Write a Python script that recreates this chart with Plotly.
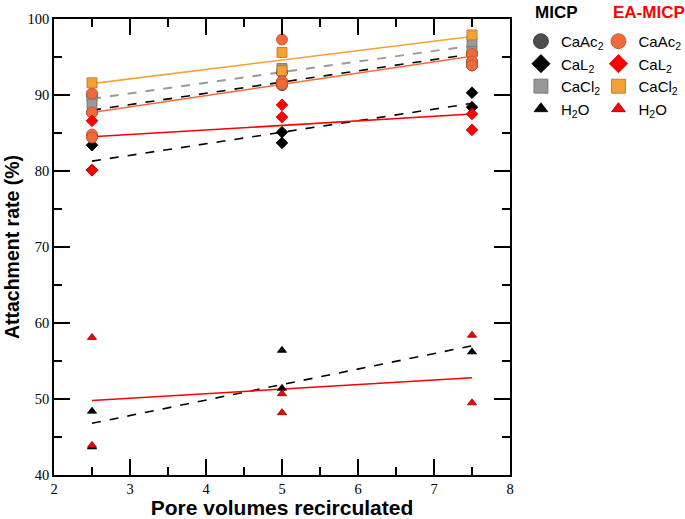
import plotly.graph_objects as go

# ---------------- data ----------------
# MICP
micp_caac2_x = [2.5, 2.5, 2.5, 5, 5, 5, 7.5, 7.5, 7.5]
micp_caac2_y = [90.0, 87.7, 84.6, 91.7, 91.3, 93.0, 95.5, 94.4, 93.9]
micp_cal2_x = [2.5, 2.5, 5, 5, 7.5, 7.5]
micp_cal2_y = [83.4, 80.1, 85.1, 83.7, 90.3, 88.4]
micp_cacl2_x = [2.5, 2.5, 5, 7.5, 7.5]
micp_cacl2_y = [89.8, 88.8, 93.5, 96.9, 95.7]
micp_h2o_x = [2.5, 2.5, 5, 5, 7.5]
micp_h2o_y = [48.4, 43.7, 56.4, 51.4, 56.2]
# EA-MICP
ea_caac2_x = [2.5, 2.5, 2.5, 2.5, 5, 5, 5, 7.5, 7.5, 7.5]
ea_caac2_y = [90.2, 87.7, 84.8, 84.4, 97.3, 91.8, 91.4, 95.4, 94.4, 93.9]
ea_cal2_x = [2.5, 2.5, 5, 5, 7.5, 7.5]
ea_cal2_y = [86.6, 80.1, 88.7, 87.1, 87.5, 85.4]
ea_cacl2_x = [2.5, 5, 5, 7.5]
ea_cacl2_y = [91.6, 95.6, 93.2, 97.9]
ea_h2o_x = [2.5, 2.5, 5, 5, 7.5, 7.5]
ea_h2o_y = [58.1, 43.9, 50.7, 48.2, 58.4, 49.5]

# trend lines (values at the ends of the fitted range)
fit_x = [2.5, 7.5]
fit_micp_caac2 = [88.0, 95.4]
fit_micp_cal2 = [81.3, 88.9]
fit_micp_cacl2 = [89.5, 96.5]
fit_micp_h2o = [46.8, 57.0]
fit_ea_caac2 = [87.7, 95.1]
fit_ea_cal2 = [84.5, 87.5]
fit_ea_cacl2 = [91.5, 97.7]
fit_ea_h2o = [49.8, 52.8]

labels = ["CaAc<sub>2</sub>", "CaL<sub>2</sub>", "CaCl<sub>2</sub>", "H<sub>2</sub>O"]
group_titles = ["MICP", "EA-MICP"]

fig = go.Figure()

# ---------------- trend lines ----------------
lines = [
    (fit_micp_caac2, "#000000", "dash", 1.6),
    (fit_micp_cal2, "#000000", "dash", 1.6),
    (fit_micp_cacl2, "#999999", "dash", 2.0),
    (fit_micp_h2o, "#000000", "dash", 1.6),
    (fit_ea_caac2, "#F26A3A", "solid", 1.6),
    (fit_ea_cal2, "#FF0000", "solid", 1.6),
    (fit_ea_cacl2, "#F7A035", "solid", 1.6),
    (fit_ea_h2o, "#FF0000", "solid", 1.6),
]
for yv, col, dash, w in lines:
    fig.add_trace(go.Scatter(x=fit_x, y=yv, mode="lines",
                             line=dict(color=col, dash=dash, width=w),
                             showlegend=False, hoverinfo="skip"))

# ---------------- markers ----------------
series = [
    # x, y, symbol, fill, outline, size, legend, label
    (micp_caac2_x, micp_caac2_y, "circle", "#4D4D4D", "#333333", 11, "legend", labels[0]),
    (micp_cal2_x, micp_cal2_y, "diamond", "#000000", "#000000", 9, "legend", labels[1]),
    (micp_cacl2_x, micp_cacl2_y, "square", "#999999", "#6E6E6E", 10, "legend", labels[2]),
    (micp_h2o_x, micp_h2o_y, "triangle-up", "#000000", "#000000", 8, "legend", labels[3]),
    (ea_caac2_x, ea_caac2_y, "circle", "#F26A3A", "#B5522E", 11, "legend2", labels[0]),
    (ea_cal2_x, ea_cal2_y, "diamond", "#FF0000", "#CC0000", 9, "legend2", labels[1]),
    (ea_cacl2_x, ea_cacl2_y, "square", "#F7A035", "#B07020", 10, "legend2", labels[2]),
    (ea_h2o_x, ea_h2o_y, "triangle-up", "#FF0000", "#800000", 8, "legend2", labels[3]),
]
legend_sizes = {"circle": 15, "diamond": 14, "square": 14, "triangle-up": 12}
for xv, yv, sym, fill, edge, size, leg, lab in series:
    fig.add_trace(go.Scatter(x=xv, y=yv, mode="markers", showlegend=False,
                             marker=dict(symbol=sym, color=fill, size=size,
                                         line=dict(color=edge, width=0.8))))
    # legend-only entry with larger symbol
    fig.add_trace(go.Scatter(x=[None], y=[None], mode="markers", name=lab, legend=leg,
                             marker=dict(symbol=sym, color=fill, size=legend_sizes[sym],
                                         line=dict(color=edge, width=0.8))))

axis_common = dict(
    showline=True, linecolor="black", linewidth=1.5, mirror="allticks",
    ticks="inside", ticklen=16, tickwidth=1.5, tickcolor="black",
    showgrid=False, zeroline=False,
    tickfont=dict(family="Liberation Serif", size=14.5, color="black"),
)

fig.update_xaxes(range=[2, 8], dtick=1, tick0=2,
                 minor=dict(ticks="inside", ticklen=8, tickwidth=1.5, dtick=0.5, tickcolor="black"),
                 title=dict(text="<b>Pore volumes recirculated</b>",
                            font=dict(family="Liberation Sans", size=21, color="black"),
                            standoff=3),
                 **axis_common)
fig.update_yaxes(range=[40, 100], dtick=10, tick0=40,
                 minor=dict(ticks="inside", ticklen=8, tickwidth=1.5, dtick=5, tickcolor="black"),
                 title=dict(text="<b>Attachment rate (%)</b>",
                            font=dict(family="Liberation Sans", size=19.5, color="black"),
                            standoff=3),
                 **axis_common)

fig.add_annotation(text="<b>%s</b>" % group_titles[0], xref="paper", yref="paper",
                   x=1.050, y=1.015, xanchor="left", yanchor="middle", showarrow=False,
                   font=dict(family="Liberation Sans", size=17, color="black"))
fig.add_annotation(text="<b>%s</b>" % group_titles[1], xref="paper", yref="paper",
                   x=1.222, y=1.015, xanchor="left", yanchor="middle", showarrow=False,
                   font=dict(family="Liberation Sans", size=17, color="#FF0000"))

fig.update_layout(
    width=685, height=519,
    margin=dict(l=54, r=175, t=19, b=44, autoexpand=False),
    plot_bgcolor="white", paper_bgcolor="white",
    font=dict(family="Liberation Sans", color="black"),
    legend=dict(x=1.024, y=0.987, xanchor="left", yanchor="top",
                font=dict(size=15, color="black"), itemsizing="trace",
                bgcolor="rgba(0,0,0,0)"),
    legend2=dict(x=1.194, y=0.987, xanchor="left", yanchor="top",
                 font=dict(size=15, color="black"), itemsizing="trace",
                 bgcolor="rgba(0,0,0,0)"),
)

fig.write_html("out.html", config={"displayModeBar": False},
               post_script="document.body.style.margin='0';")
